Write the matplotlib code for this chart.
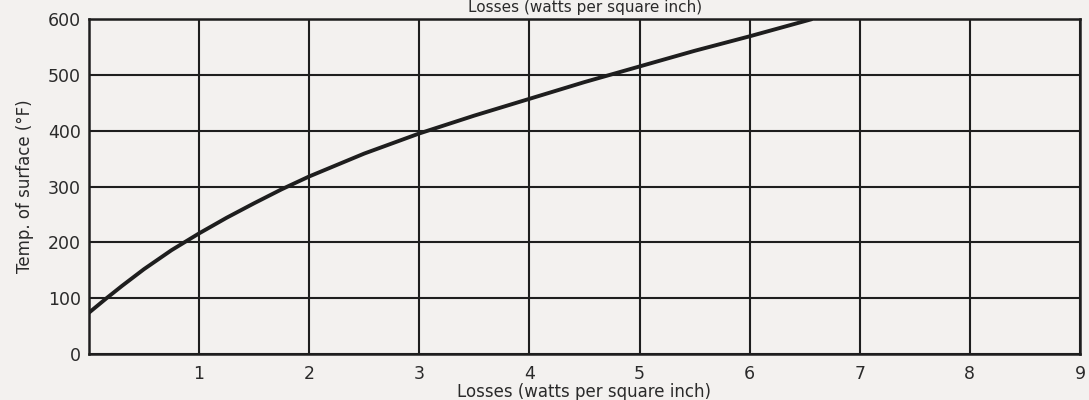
import matplotlib.pyplot as plt

# curve: losses (W/sq in) vs surface temperature (F)
losses = [0.0, 0.16, 0.3, 0.5, 0.75, 1.0, 1.25, 1.5, 1.75, 2.0, 2.5, 3.0, 3.5, 4.0, 4.5, 5.0, 5.5, 6.0, 6.57]
temp = [74, 100, 122, 152, 186, 216, 244, 270, 295, 318, 359, 395, 427, 457, 487, 515, 543, 569, 600]

x_ticks = [1, 2, 3, 4, 5, 6, 7, 8, 9]
y_ticks = [0, 100, 200, 300, 400, 500, 600]

paper = '#f3f1ef'
ink = '#1e1e1e'

fig = plt.figure(figsize=(10.89, 4.0), dpi=100, facecolor=paper)
ax = fig.add_axes([0.0817, 0.115, 0.910, 0.8375])
ax.set_facecolor(paper)

ax.plot(losses, temp, color=ink, lw=2.8, solid_joinstyle='round',
        solid_capstyle='butt', zorder=3)

ax.set_xlim(0, 9)
ax.set_ylim(0, 600)
ax.set_xticks(x_ticks)
ax.set_yticks(y_ticks)
ax.grid(True, color=ink, lw=1.5)
for s in ax.spines.values():
    s.set_color(ink)
    s.set_linewidth(1.8)
ax.tick_params(length=0, labelsize=12.5, colors='#2a2a2a', pad=6)
ax.tick_params(axis='x', pad=8)

ax.set_xlabel('Losses (watts per square inch)', fontsize=12, color='#2a2a2a', labelpad=0)
ax.set_ylabel('Temp. of surface (°F)', fontsize=12, color='#2a2a2a', labelpad=10)
# the scan shows a second copy of the axis title squeezed above the frame
fig.text(0.537, 0.999, 'Losses (watts per square inch)', fontsize=11, color='#2a2a2a',
         ha='center', va='top')

fig.savefig('out.png', dpi=100, facecolor=paper)
